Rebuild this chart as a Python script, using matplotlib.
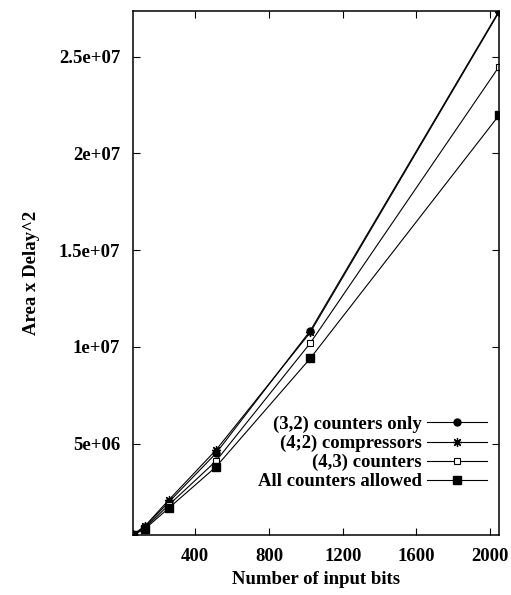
import numpy as np
import matplotlib
matplotlib.use('Agg')
import matplotlib.pyplot as plt

# input sizes (bits) and area x delay^2 for each counter configuration
bits = [64, 128, 256, 512, 1024, 2048]
only_32 = [0.30e6, 0.72e6, 1.98e6, 4.50e6, 10.84e6, 27.36e6]
comp_42 = [0.31e6, 0.76e6, 2.09e6, 4.67e6, 10.75e6, 27.30e6]
count_43 = [0.29e6, 0.66e6, 1.83e6, 4.10e6, 10.20e6, 24.48e6]
all_allowed = [0.28e6, 0.61e6, 1.67e6, 3.80e6, 9.41e6, 21.97e6]

xticks = [400, 800, 1200, 1600, 2000]
yticks = [5e6, 1e7, 1.5e7, 2e7, 2.5e7]
ytick_labels = ['5e+06', '1e+07', '1.5e+07', '2e+07', '2.5e+07']

plt.rcParams['font.family'] = ['Liberation Serif', 'DejaVu Serif']
plt.rcParams['font.weight'] = 'bold'
plt.rcParams['axes.labelweight'] = 'bold'
plt.rcParams['font.size'] = 13.5

fig = plt.figure(figsize=(5.11, 5.95), dpi=100)
ax = fig.add_axes([0.261, 0.1008, 0.7155, 0.8807])

lw = 0.8
ax.plot(bits, only_32, color='black', lw=lw, marker='o', ms=5,
        label='(3,2) counters only')
ax.plot(bits, comp_42, color='black', lw=lw, marker=(8, 2, 0), ms=6.5,
        mew=0.9, label='(4;2) compressors')
ax.plot(bits, count_43, color='black', lw=lw, marker='s', ms=5,
        mfc='white', mew=0.8, label='(4,3) counters')
ax.plot(bits, all_allowed, color='black', lw=lw, marker='s', ms=5.5,
        label='All counters allowed')

ax.set_xlim(min(bits), max(bits))
ymin = min(min(only_32), min(comp_42), min(count_43), min(all_allowed))
ymax = max(max(only_32), max(comp_42), max(count_43), max(all_allowed))
ax.set_ylim(ymin, ymax)

ax.set_xticks(xticks)
ax.set_xticklabels([str(v) for v in xticks])
ax.set_yticks(yticks)
ax.set_yticklabels(ytick_labels)
ax.tick_params(direction='in', length=5, width=0.8, top=True, right=True,
               pad=9.5)
for s in ax.spines.values():
    s.set_linewidth(1.1)

ax.set_xlabel('Number of input bits')
ax.set_ylabel('Area x Delay^2')
ax.yaxis.set_label_coords(-0.255, 0.5)
ax.xaxis.set_label_coords(0.5, -0.068)

leg = ax.legend(loc='lower right', bbox_to_anchor=(0.966, 0.085),
                frameon=False, markerfirst=False, handlelength=3.2,
                handletextpad=0.25, labelspacing=0.1, borderpad=0,
                borderaxespad=0)

fig.savefig('out.png', dpi=100)
